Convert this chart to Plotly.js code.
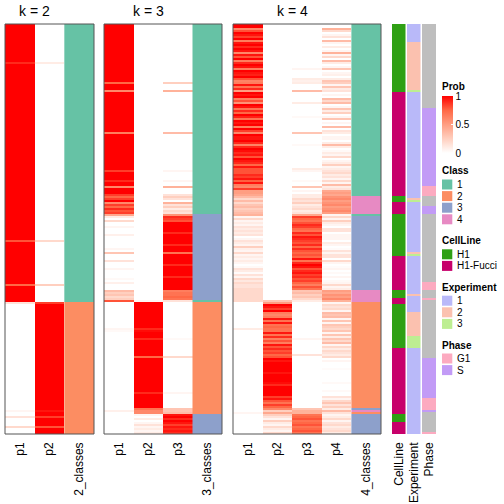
<!DOCTYPE html>
<html><head><meta charset="utf-8">
<script src="https://cdn.plot.ly/plotly-3.0.1.min.js"></script>
<style>html,body{margin:0;padding:0;background:#fff}#chart{width:504px;height:504px}</style>
</head><body><div id="chart"></div>
<script>
// ---- k = 2 ----
const K2_P1 = [
1,1,1,1,1,1,1,1,1,1,
1,1,1,1,1,1,1,1,1,.9,
1,1,1,1,1,1,1,1,1,1,
1,1,1,1,1,1,1,1,1,1,
1,1,1,1,1,1,1,1,1,1,
1,1,1,1,1,1,1,1,1,1,
1,1,1,1,1,1,1,1,1,1,
1,1,1,1,1,1,1,1,1,1,
1,1,1,1,1,1,1,1,1,1,
1,1,1,1,1,1,1,1,1,1,
1,1,1,1,1,1,1,1,.8,1,
1,1,1,1,1,1,1,1,1,1,
1,1,1,1,1,1,1,1,1,1,
.75,1,1,1,1,1,1,1,1,.15,
0,0,0,0,0,0,0,0,0,0,
0,0,0,0,0,0,0,0,0,0,
0,0,0,0,0,0,0,0,0,0,
0,0,0,0,0,0,0,0,0,0,
0,0,0,0,0,0,0,0,0,0,
0,0,0,.05,0,0,.15,0,0,0,
0,.2,0,0,0];
const K2_P2 = [
0,0,0,0,0,0,0,0,0,0,
0,0,0,0,0,0,0,0,0,.1,
0,0,0,0,0,0,0,0,0,0,
0,0,0,0,0,0,0,0,0,0,
0,0,0,0,0,0,0,0,0,0,
0,0,0,0,0,0,0,0,0,0,
0,0,0,0,0,0,0,0,0,0,
0,0,0,0,0,0,0,0,0,0,
0,0,0,0,0,0,0,0,0,0,
0,0,0,0,0,0,0,0,0,0,
0,0,0,0,0,0,0,0,.2,0,
0,0,0,0,0,0,0,0,0,0,
0,0,0,0,0,0,0,0,0,0,
.25,0,0,0,0,0,0,0,0,.85,
1,1,1,1,1,1,1,1,1,1,
1,1,1,1,1,1,1,1,1,1,
1,1,1,1,1,1,1,1,1,1,
1,1,1,1,1,1,1,1,1,1,
1,1,1,1,1,1,1,1,1,1,
1,1,1,.95,1,1,.85,1,1,1,
1,.8,1,1,1];
const K2_CLS = [
1,1,1,1,1,1,1,1,1,1,
1,1,1,1,1,1,1,1,1,1,
1,1,1,1,1,1,1,1,1,1,
1,1,1,1,1,1,1,1,1,1,
1,1,1,1,1,1,1,1,1,1,
1,1,1,1,1,1,1,1,1,1,
1,1,1,1,1,1,1,1,1,1,
1,1,1,1,1,1,1,1,1,1,
1,1,1,1,1,1,1,1,1,1,
1,1,1,1,1,1,1,1,1,1,
1,1,1,1,1,1,1,1,1,1,
1,1,1,1,1,1,1,1,1,1,
1,1,1,1,1,1,1,1,1,1,
1,1,1,1,1,1,1,1,1,2,
2,2,2,2,2,2,2,2,2,2,
2,2,2,2,2,2,2,2,2,2,
2,2,2,2,2,2,2,2,2,2,
2,2,2,2,2,2,2,2,2,2,
2,2,2,2,2,2,2,2,2,2,
2,2,2,2,2,2,2,2,2,2,
2,2,2,2,2];
// ---- k = 3 ----
const K3_P1 = [
1,1,1,1,1,1,1,1,1,1,
1,1,1,1,1,1,1,1,1,1,
1,1,1,1,1,1,1,1,1,.75,
1,1,1,.6,1,1,1,1,1,1,
1,1,1,1,1,1,1,1,1,1,
1,1,1,1,.65,1,1,1,1,1,
1,1,1,1,1,1,1,1,1,1,
1,1,1,.85,1,1,1,1,.9,1,
1,.6,1,1,1,.85,.75,.85,1,.6,
.85,.75,.9,.8,.85,.45,.1,0,.2,0,
0,.05,0,0,0,.08,0,0,0,0,
0,0,.05,0,.3,0,0,0,.15,0,
0,0,.05,0,0,0,0,.03,0,.08,
0,0,0,.35,.25,.3,.2,.25,.8,0,
0,0,0,0,0,0,0,0,0,0,
0,0,.05,.03,0,0,0,0,0,0,
0,0,0,0,0,0,0,0,0,0,
0,0,0,0,0,0,0,0,0,0,
0,0,0,0,0,0,0,0,0,0,
0,0,0,.08,0,0,0,0,0,0,
0,0,0,0,0];
const K3_P2 = [
0,0,0,0,0,0,0,0,0,0,
0,0,0,0,0,0,0,0,0,0,
0,0,0,0,0,0,0,0,0,0,
0,0,0,0,0,0,0,0,0,0,
0,0,0,0,0,0,0,0,0,0,
0,0,0,0,0,0,0,0,0,0,
0,0,0,0,0,0,0,0,0,0,
0,0,0,0,0,0,0,0,0,0,
0,0,0,0,0,0,0,0,0,0,
0,0,0,0,0,0,0,0,0,0,
0,0,0,0,0,0,0,0,0,0,
0,0,0,0,0,0,0,0,0,0,
0,0,0,0,0,0,0,0,0,0,
0,0,0,0,0,0,0,0,.05,1,
1,1,1,1,1,1,1,1,1,1,
1,1,.9,.97,1,1,1,.9,1,1,
1,1,1,1,1,1,.75,1,1,1,
1,1,1,1,1,1,1,1,1,1,
1,1,1,1,.9,1,1,1,1,1,
1,1,.7,.6,.6,.05,0,.1,0,.05,
.15,.05,.1,.05,.1];
const K3_P3 = [
0,0,0,0,0,0,0,0,0,0,
0,0,0,0,0,0,0,0,0,0,
0,0,0,0,0,0,0,0,0,.25,
0,0,0,.4,0,0,0,0,0,0,
0,0,0,0,0,0,0,0,0,0,
0,0,0,0,.35,0,0,0,0,0,
0,0,0,0,0,0,0,0,0,0,
0,0,0,.05,0,0,0,0,.05,0,
0,.4,0,0,0,.15,.25,.15,0,.4,
.15,.25,.1,.2,.15,.55,.9,.85,.8,1,
1,1,1,1,.9,1,1,1,1,1,
.9,1,1,1,.7,1,1,1,1,1,
.9,1,1,1,1,1,.9,1,1,1,
1,1,1,.65,.7,.7,.75,.7,.15,0,
0,0,0,0,0,0,0,0,0,0,
0,0,0,0,0,0,0,.03,0,0,
0,0,0,0,0,0,.2,0,0,0,
0,0,0,0,0,0,0,0,0,0,
0,0,0,0,.05,0,0,0,0,0,
0,0,.3,.3,.35,.95,1,.9,1,.95,
.85,.95,.9,.95,.9];
const K3_CLS = [
1,1,1,1,1,1,1,1,1,1,
1,1,1,1,1,1,1,1,1,1,
1,1,1,1,1,1,1,1,1,1,
1,1,1,1,1,1,1,1,1,1,
1,1,1,1,1,1,1,1,1,1,
1,1,1,1,1,1,1,1,1,1,
1,1,1,1,1,1,1,1,1,1,
1,1,1,1,1,1,1,1,1,1,
1,1,1,1,1,1,1,1,1,1,
1,1,1,1,1,3,3,3,3,3,
3,3,3,3,3,3,3,3,3,3,
3,3,3,3,3,3,3,3,3,3,
3,3,3,3,3,3,3,3,3,3,
3,3,3,3,3,3,3,3,1,2,
2,2,2,2,2,2,2,2,2,2,
2,2,2,2,2,2,2,2,2,2,
2,2,2,2,2,2,2,2,2,2,
2,2,2,2,2,2,2,2,2,2,
2,2,2,2,2,2,2,2,2,2,
2,2,2,2,2,3,3,3,3,3,
3,3,3,3,3];
// ---- k = 4 ----
const K4_P1 = [
1,1,.6,.8,1,.95,.85,1,.65,.95,
1,.9,1,.95,.6,.95,.8,1,.65,.9,
1,.95,.65,1,.95,.92,1,.8,.62,.65,
.95,.7,.9,.5,1,.95,1,.65,.8,.55,
1,.95,.7,.9,.75,1,.92,.7,1,.95,
1,.65,1,.85,.6,1,.95,.95,1,.9,
.62,.9,1,.97,.9,.95,.8,1,.95,.9,
.75,.95,.8,.8,.8,.9,.85,.95,.77,.95,
.65,.6,.85,.5,.5,.45,.35,.2,.35,.2,
.3,.35,.25,.3,.35,.4,.05,.2,.05,.1,
.05,.15,.1,.15,.1,.15,0,.05,.15,.1,
.05,.25,.08,.05,.2,.05,.1,.05,.1,.05,
0,.03,.15,.1,.02,.15,.05,.2,.12,.2,
.15,.15,.2,.2,.2,.2,.2,.2,.2,0,
0,0,0,0,0,0,0,0,0,0,
0,0,.1,0,0,0,0,0,0,0,
0,0,0,0,0,0,0,0,0,0,
0,0,0,0,0,0,0,0,0,0,
0,0,0,0,0,0,0,0,0,0,
0,0,0,0,.05,0,0,0,0,0,
0,0,0,0,0];
const K4_P2 = [
0,0,0,0,0,0,0,0,0,0,
0,0,0,0,0,0,0,0,0,0,
0,0,0,0,0,0,0,0,0,0,
0,0,0,0,0,0,0,0,0,0,
0,0,0,0,0,0,0,0,0,0,
0,0,0,0,0,0,0,0,0,0,
0,0,0,0,0,0,0,0,0,0,
0,0,0,0,0,0,0,0,0,0,
0,0,0,0,0,0,0,0,0,0,
0,0,0,0,0,0,0,0,0,0,
0,0,0,0,0,0,0,0,0,0,
0,0,0,0,0,0,0,0,0,0,
0,0,0,0,0,0,0,0,0,0,
0,0,0,0,0,0,0,0,.3,.5,
1,.95,.85,1,.65,.6,.65,.95,.7,.95,
.7,.75,.7,.7,.95,.7,.9,.65,.8,.65,
.95,.8,.9,.8,.85,.75,.8,1,.95,1,
1,1,1,1,.95,1,1,1,1,.97,
.9,1,1,1,1,1,.85,.95,.8,.7,
.85,.75,.6,.25,.45,.25,.15,.05,.25,.1,
.05,.2,.1,.05,.2];
const K4_P3 = [
0,0,0,0,0,0,0,0,0,0,
0,0,0,0,0,0,0,0,0,0,
0,0,.05,0,0,0,0,.1,.08,.1,
0,0,0,.35,0,0,0,0,0,.1,
0,0,0,0,0,0,.03,0,0,0,
0,0,0,0,.3,0,0,0,0,0,
.03,0,0,0,0,0,0,0,0,0,
0,0,.1,.05,0,0,0,0,.03,0,
0,.3,0,.05,0,.1,.1,.2,.15,.25,
.1,.15,.2,.1,.15,.45,.85,.75,.7,.8,
.9,.85,.75,.7,.9,.8,.95,.9,.85,.8,
.9,.75,.9,.8,.75,.8,.75,.95,.7,.9,
1,.95,.8,.9,.95,.85,.9,.8,.85,.75,
.65,.8,.7,.3,.35,.25,.3,.2,.1,0,
0,0,0,0,0,0,0,0,0,0,
0,0,0,0,0,0,0,.05,0,0,
0,0,0,0,0,.15,0,0,0,0,
0,0,0,0,0,0,0,0,0,0,
0,0,0,0,0,0,0,0,0,0,
0,0,.3,.4,.4,.7,.75,.8,.7,.75,
.8,.7,.75,.8,.7];
const K4_P4 = [
0,0,.4,.2,0,.05,.15,0,.35,.05,
0,.1,0,.05,.4,.05,.2,0,.35,.1,
0,.05,.3,0,.05,.08,0,.1,.3,.25,
.05,.3,.1,.15,0,.05,0,.35,.2,.35,
0,.05,.3,.1,.25,0,.05,.3,0,.05,
0,.35,0,.15,.1,0,.05,.05,0,.1,
.35,.1,0,.03,.1,.05,.2,0,.05,.1,
.25,.05,.1,.15,.2,.1,.15,.05,.2,.05,
.35,.1,.15,.45,.5,.45,.55,.6,.5,.55,
.6,.5,.55,.6,.5,.05,.2,.05,.25,.1,
.05,0,.15,.15,0,.05,.05,.05,0,.1,
.05,0,.02,.15,.05,.15,.15,0,.2,.05,
0,.02,.05,0,.03,0,.05,0,.03,.05,
.2,.05,.1,.5,.45,.55,.5,.6,.4,.05,
.2,.15,.2,.05,.35,.3,.35,.05,.3,.05,
.3,.25,.2,.3,.05,.3,.1,.3,.2,.35,
.05,.2,.1,.2,.15,.1,.2,0,.05,0,
0,0,.02,0,0,0,0,0,0,.03,
0,0,0,.03,0,0,.15,.05,.2,.3,
.15,.25,.1,.35,.15,.05,.1,.2,.05,.15,
.2,.1,.15,.2,.1];
const K4_CLS = [
1,1,1,1,1,1,1,1,1,1,
1,1,1,1,1,1,1,1,1,1,
1,1,1,1,1,1,1,1,1,1,
1,1,1,1,1,1,1,1,1,1,
1,1,1,1,1,1,1,1,1,1,
1,1,1,1,1,1,1,1,1,1,
1,1,1,1,1,1,1,1,1,1,
1,1,1,1,1,1,1,1,1,1,
1,1,1,1,1,1,4,4,4,4,
4,4,4,4,4,1,3,3,3,3,
3,3,3,3,3,3,3,3,3,3,
3,3,3,3,3,3,3,3,3,3,
3,3,3,3,3,3,3,3,3,3,
3,3,3,4,4,4,4,4,4,2,
2,2,2,2,2,2,2,2,2,2,
2,2,2,2,2,2,2,2,2,2,
2,2,2,2,2,2,2,2,2,2,
2,2,2,2,2,2,2,2,2,2,
2,2,2,2,2,2,2,2,2,2,
2,2,3,4,2,3,3,3,3,3,
3,3,3,3,3];
// ---- sample annotations ----
const H = 'H1', F = 'H1-Fucci';
const CELL_LINE = [
H,H,H,H,H,H,H,H,H,H,
H,H,H,H,H,H,H,H,H,H,
H,H,H,H,H,H,H,H,H,H,
H,H,H,H,F,F,F,F,F,F,
F,F,F,F,F,F,F,F,F,F,
F,F,F,F,F,F,F,F,F,F,
F,F,F,F,F,F,F,F,F,F,
F,F,F,F,F,F,F,F,F,F,
F,F,F,F,F,F,H,H,H,F,
F,F,F,F,F,H,H,H,H,H,
H,H,H,H,H,H,H,H,H,H,
H,H,H,H,H,H,F,F,F,F,
F,F,F,F,F,F,F,F,F,F,
F,F,F,H,H,H,H,F,F,F,
H,H,H,H,H,H,H,H,H,H,
H,H,H,H,H,H,H,H,H,H,
H,H,F,F,F,F,F,F,F,F,
F,F,F,F,F,F,F,F,F,F,
F,F,F,F,F,F,F,F,F,F,
F,F,F,F,F,H,H,H,H,F,
F,F,F,F,F];
const EXPERIMENT = [
1,1,1,1,1,1,1,1,1,2,
2,2,2,2,2,2,2,2,2,2,
2,2,2,2,2,2,2,2,2,2,
2,2,2,3,1,1,1,1,1,1,
1,1,1,1,1,1,1,1,1,1,
1,1,1,1,1,1,1,1,1,1,
1,1,1,1,1,1,1,1,1,1,
1,1,1,1,1,1,1,1,1,1,
1,1,1,1,1,1,1,2,3,1,
1,1,1,1,1,1,1,1,1,1,
1,1,1,1,1,1,1,1,1,1,
1,1,1,1,2,3,1,1,1,1,
1,1,1,1,1,1,1,1,1,1,
1,1,1,1,1,2,1,1,1,1,
1,1,1,1,2,2,2,2,2,2,
2,2,2,2,2,2,3,3,3,3,
3,3,1,1,1,1,1,1,1,1,
1,1,1,1,1,1,1,1,1,1,
1,1,1,1,1,1,1,1,1,1,
1,1,1,1,1,1,1,1,1,1,
1,1,1,1,1];
const N = 'NA', G = 'G1', S = 'S';
const PHASE = [
N,N,N,N,N,N,N,N,N,N,
N,N,N,N,N,N,N,N,N,N,
N,N,N,N,N,N,N,N,N,N,
N,N,N,N,N,N,N,N,N,N,
N,N,S,S,S,S,S,S,S,S,
S,S,S,S,S,S,S,S,S,S,
S,S,S,S,S,S,S,S,S,S,
S,S,S,S,S,S,S,S,S,S,
S,G,G,G,G,G,N,N,N,N,
N,S,S,S,S,N,N,N,N,N,
N,N,N,N,N,N,N,N,N,N,
N,N,N,N,N,N,N,N,N,N,
N,N,N,N,N,N,N,N,N,G,
G,G,G,N,N,N,N,G,N,N,
N,N,N,N,N,N,N,N,N,N,
N,N,N,N,N,N,N,N,N,N,
N,N,N,N,N,N,N,S,S,S,
S,S,S,S,S,S,S,S,S,S,
S,S,S,S,S,S,S,G,G,G,
G,G,G,S,N,N,N,N,N,N,
N,N,N,N,G];

// ---- labels & colours ----
const CLASS_LEVELS = ['1','2','3','4'];
const CLASS_COLORS = ['#66C2A5','#FC8D62','#8DA0CB','#E78AC3'];
const CELL_LEVELS = ['H1','H1-Fucci'];
const CELL_COLORS = ['#2FA014','#C7006B'];
const EXP_LEVELS = [1,2,3];
const EXP_COLORS = ['#B9B9F9','#FBC1AF','#BDEE92'];
const PHASE_LEVELS = ['NA','G1','S'];
const PHASE_COLORS = ['#BEBEBE','#FCAAC0','#C29BF6'];
const PROB_SCALE = [[0,'#FFFFFF'],[0.25,'#FFCFBF'],[0.5,'#FF9E82'],[0.75,'#FF6846'],[1,'#FF0000']];

const FONT = 'Liberation Sans, Arial, Helvetica, sans-serif';
const LEG = 10;
const ROWS = K2_P1.map((_, i) => i);

function stepScale(colors) {
  const n = colors.length, s = [];
  colors.forEach((c, i) => { s.push([i / n, c]); s.push([(i + 1) / n, c]); });
  return s;
}
function probTrace(cols, xa, showScale) {
  const t = {
    type: 'heatmap', xaxis: xa, yaxis: 'y',
    x: cols.map((_, j) => j), y: ROWS,
    z: ROWS.map(r => cols.map(c => c[r])),
    colorscale: PROB_SCALE, zmin: 0, zmax: 1, hoverinfo: 'skip', showscale: showScale
  };
  if (showScale) {
    t.colorbar = {
      x: 442 / 504, xanchor: 'left', xpad: 0, ypad: 0,
      y: 1 - 124.5 / 504, yanchor: 'middle',
      len: 57, lenmode: 'pixels', thickness: 11, thicknessmode: 'pixels',
      outlinewidth: 0, tickvals: [0, 0.5, 1], ticktext: ['0', '0.5', '1'],
      ticks: 'inside', ticklen: 2, tickcolor: '#ffffff', tickwidth: 1,
      tickfont: { family: FONT, size: LEG, color: '#000' }
    };
  }
  return t;
}
function catTrace(values, levels, colors, xa, xpos) {
  const n = levels.length;
  return {
    type: 'heatmap', xaxis: xa, yaxis: 'y', x: [xpos], y: ROWS,
    z: values.map(v => [levels.indexOf(v)]),
    colorscale: stepScale(colors), zmin: -0.5, zmax: n - 0.5,
    showscale: false, hoverinfo: 'skip'
  };
}
const clsNum = CLASS_LEVELS.map(Number);

const data = [
  probTrace([K2_P1, K2_P2], 'x', true),
  catTrace(K2_CLS, clsNum, CLASS_COLORS, 'x', 2),
  probTrace([K3_P1, K3_P2, K3_P3], 'x2', false),
  catTrace(K3_CLS, clsNum, CLASS_COLORS, 'x2', 3),
  probTrace([K4_P1, K4_P2, K4_P3, K4_P4], 'x3', false),
  catTrace(K4_CLS, clsNum, CLASS_COLORS, 'x3', 4),
  catTrace(CELL_LINE, CELL_LEVELS, CELL_COLORS, 'x4', 0),
  catTrace(EXPERIMENT, EXP_LEVELS, EXP_COLORS, 'x5', 0),
  catTrace(PHASE, PHASE_LEVELS, PHASE_COLORS, 'x6', 0)
];

const px = v => v / 504, py = v => 1 - v / 504;
function xax(l, r, labels) {
  return {
    domain: [px(l), px(r)], range: [-0.5, labels.length - 0.5], anchor: 'y',
    tickvals: labels.map((_, i) => i), ticktext: labels, tickangle: -90,
    ticks: '', ticklabelstandoff: 5, showgrid: false, zeroline: false, showline: false,
    tickfont: { family: FONT, size: 12, color: '#000' }, fixedrange: true
  };
}

const annotations = [];
const shapes = [];
function txt(x, y, s, opts) {
  annotations.push(Object.assign({
    xref: 'paper', yref: 'paper', x: px(x), y: py(y), text: s, showarrow: false,
    xanchor: 'left', yanchor: 'middle', borderpad: 0,
    font: { family: FONT, size: LEG, color: '#000' }
  }, opts || {}));
}
const titleFont = { family: FONT, size: 14, color: '#000' };
txt(34.6, 11, 'k = 2', { xanchor: 'center', font: titleFont });
txt(148.3, 11, 'k = 3', { xanchor: 'center', font: titleFont });
txt(292, 11, 'k = 4', { xanchor: 'center', font: titleFont });

function legendBlock(title, titleY, levels, colors, firstY) {
  txt(441, titleY, '<b>' + title + '</b>');
  levels.forEach((lv, i) => {
    const cy = firstY + i * 11.6;
    shapes.push({ type: 'rect', xref: 'paper', yref: 'paper', x0: px(442), x1: px(452.3),
      y0: py(cy + 5), y1: py(cy - 5), fillcolor: colors[i], line: { width: 0 } });
    txt(455.5, cy, String(lv));
  });
}
txt(441, 86.5, '<b>Prob</b>');
legendBlock('Class', 170, CLASS_LEVELS, CLASS_COLORS, 184.5);
legendBlock('CellLine', 240.7, CELL_LEVELS, CELL_COLORS, 254.3);
legendBlock('Experiment', 287.3, EXP_LEVELS, EXP_COLORS, 300.7);
legendBlock('Phase', 345, ['G1', 'S'], [PHASE_COLORS[1], PHASE_COLORS[2]], 358.5);

['x', 'x2', 'x3'].forEach(a => shapes.push({
  type: 'rect', xref: a + ' domain', yref: 'y domain', x0: 0, x1: 1, y0: 0, y1: 1,
  line: { color: '#555555', width: 1 }, layer: 'above'
}));

const layout = {
  width: 504, height: 504, margin: { l: 0, r: 0, t: 0, b: 0 },
  paper_bgcolor: '#fff', plot_bgcolor: '#fff', showlegend: false,
  font: { family: FONT, size: 12, color: '#000' },
  xaxis: xax(5, 94, ['p1', 'p2', '2_classes']),
  xaxis2: xax(104, 222, ['p1', 'p2', 'p3', '3_classes']),
  xaxis3: xax(233, 381, ['p1', 'p2', 'p3', 'p4', '4_classes']),
  xaxis4: xax(392, 405.5, ['CellLine']),
  xaxis5: xax(407, 420.5, ['Experiment']),
  xaxis6: xax(422, 436, ['Phase']),
  yaxis: { domain: [py(434), py(24)], range: [ROWS.length - 0.5, -0.5], visible: false, fixedrange: true },
  annotations: annotations, shapes: shapes
};
Plotly.newPlot('chart', data, layout, { staticPlot: true, displayModeBar: false });
</script>
</body></html>
